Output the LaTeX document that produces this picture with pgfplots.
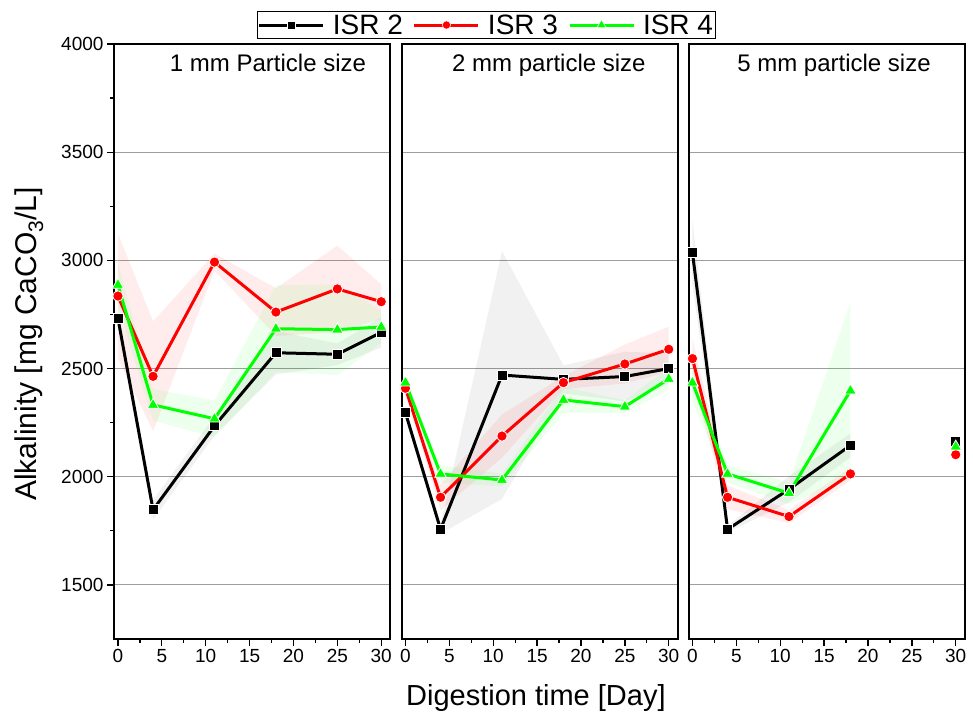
\documentclass[border=0pt]{standalone}
\usepackage{fontspec}
\setmainfont{Liberation Sans}
\usepackage{pgfplots}
\pgfplotsset{compat=1.18}
\usepackage{pgfplotstable}
\usepgfplotslibrary{fillbetween}

\definecolor{isrgreen}{RGB}{0,255,0}
\definecolor{isrred}{RGB}{255,0,0}

% t = day, m = mean, e = half width of shaded band
\pgfplotstableread{
t  m2   e2  m3   e3  m4   e4
0  2732 15  2835 290 2886 100
4  1847 45  2464 254 2332 73
11 2235 45  2992 40  2268 85
18 2573 100 2761 110 2684 200
25 2566 50  2868 200 2680 210
30 2667 70  2809 80  2692 75
}\pA
\pgfplotstableread{
t  m2   e2  m3   e3  m4   e4
0  2296 20  2409 15  2435 15
4  1757 20  1905 60  2013 40
11 2470 573 2188 100 1985 30
18 2450 65  2435 30  2355 60
25 2463 115 2521 90  2324 30
30 2500 70  2589 105 2452 50
}\pB
\pgfplotstableread{
t  m2   e2  m3   e3  m4   e4
0  3035 150 2546 90  2435 90
4  1757 15  1905 55  2013 40
11 1942 60  1816 30  1924 50
18 2145 55  2013 30  2398 410
}\pC
\pgfplotstableread{
t  m2   m3   m4
30 2161 2102 2139
}\pCend

\pgfplotsset{
  s2/.style={black, line width=3pt, mark=square*, mark size=5pt,
    mark options={fill=black, draw=white, line width=0.8pt}},
  s3/.style={isrred, line width=3pt, mark=*, mark size=5.2pt,
    mark options={fill=isrred, draw=white, line width=0.8pt}},
  s4/.style={isrgreen, line width=3pt, mark=triangle*, mark size=6.6pt,
    mark options={fill=isrgreen, draw=white, line width=0.8pt}},
  panel/.style={
    scale only axis, width=276pt, height=595pt, anchor=south west,
    xmin=-0.45, xmax=31, ymin=1250, ymax=4000,
    xtick={0,5,...,30}, minor x tick num=1,
    ytick={1500,2000,...,4000}, minor y tick num=1,
    tick align=outside, xtick pos=bottom, ytick pos=left,
    major tick length=7pt, minor tick length=4pt,
    every tick/.append style={black, line width=1.3pt},
    axis line style={line width=2pt},
    ymajorgrids, major grid style={black!38, line width=1pt},
    tick label style={font=\fontsize{19}{22}\selectfont},
    /pgf/number format/assume math mode=true,
    /pgf/number format/1000 sep={},
    title style={anchor=base, font=\fontsize{24}{28}\selectfont},
  },
}

\newcommand{\band}[5]{%
  \addplot[name path=hi#2, draw=none, forget plot] table[x=t, y expr=\thisrow{#2}+\thisrow{#3}] {#1};
  \addplot[name path=lo#2, draw=none, forget plot] table[x=t, y expr=\thisrow{#2}-\thisrow{#3}] {#1};
  \addplot[fill=#4, fill opacity=#5, draw=none, forget plot] fill between[of=hi#2 and lo#2];
}
\newcommand{\allbands}[1]{%
  \band{#1}{m2}{e2}{black}{0.055}
  \band{#1}{m3}{e3}{isrred}{0.07}
  \band{#1}{m4}{e4}{isrgreen}{0.07}
}

\begin{document}
\begin{tikzpicture}

% Panel 1
\begin{axis}[panel, at={(114pt,77pt)},
  title={1 mm Particle size},
  title style={at={(axis description cs:0.558,0.9445)}},
  ylabel={Alkalinity [mg CaCO\textsubscript{3}/L]},
  ylabel style={at={(axis description cs:-0.279,0.4958)}, anchor=base, font=\fontsize{30}{34}\selectfont},
  legend style={at={(axis description cs:1.3496,1.0319)}, anchor=center,
    draw=black, line width=1pt, fill=white, inner sep=0.5pt,
    font=\fontsize{28}{31}\selectfont, legend columns=3,
    /tikz/every odd column/.append style={column sep=6pt},
    /tikz/every even column/.append style={column sep=8pt},
    cells={anchor=west}},
  legend image code/.code={\draw[mark repeat=2,mark phase=2,#1,every mark/.append style={line width=0.5pt, draw=none, scale=0.8}] plot coordinates {(0pt,0pt) (32pt,0pt) (64pt,0pt)};},
]
\allbands{\pA}
\addplot[s2] table[x=t, y=m2] {\pA};
\addplot[s3] table[x=t, y=m3] {\pA};
\addplot[s4] table[x=t, y=m4] {\pA};
\legend{ISR 2, ISR 3, ISR 4}
\end{axis}

% Panel 2
\begin{axis}[panel, at={(401.5pt,77pt)},
  yticklabels={}, minor y tick num=0, ytick style={draw=none},
  title={2 mm particle size},
  title style={at={(axis description cs:0.534,0.9445)}},
  xlabel={Digestion time [Day]},
  xlabel style={at={(axis description cs:0.487,0)}, anchor=base, yshift=-66pt, font=\fontsize{29}{33}\selectfont},
]
\allbands{\pB}
\addplot[s2] table[x=t, y=m2] {\pB};
\addplot[s3] table[x=t, y=m3] {\pB};
\addplot[s4] table[x=t, y=m4] {\pB};
\end{axis}

% Panel 3
\begin{axis}[panel, at={(688.5pt,77pt)},
  yticklabels={}, minor y tick num=0, ytick style={draw=none},
  title={5 mm particle size},
  title style={at={(axis description cs:0.527,0.9445)}},
]
\allbands{\pC}
\addplot[s2] table[x=t, y=m2] {\pC};
\addplot[s3] table[x=t, y=m3] {\pC};
\addplot[s4] table[x=t, y=m4] {\pC};
\addplot[s2, only marks] table[x=t, y=m2] {\pCend};
\addplot[s3, only marks] table[x=t, y=m3] {\pCend};
\addplot[s4, only marks] table[x=t, y=m4] {\pCend};
\end{axis}

\pgfresetboundingbox
\useasboundingbox (0,0) rectangle (973pt,716pt);
\end{tikzpicture}
\end{document}
